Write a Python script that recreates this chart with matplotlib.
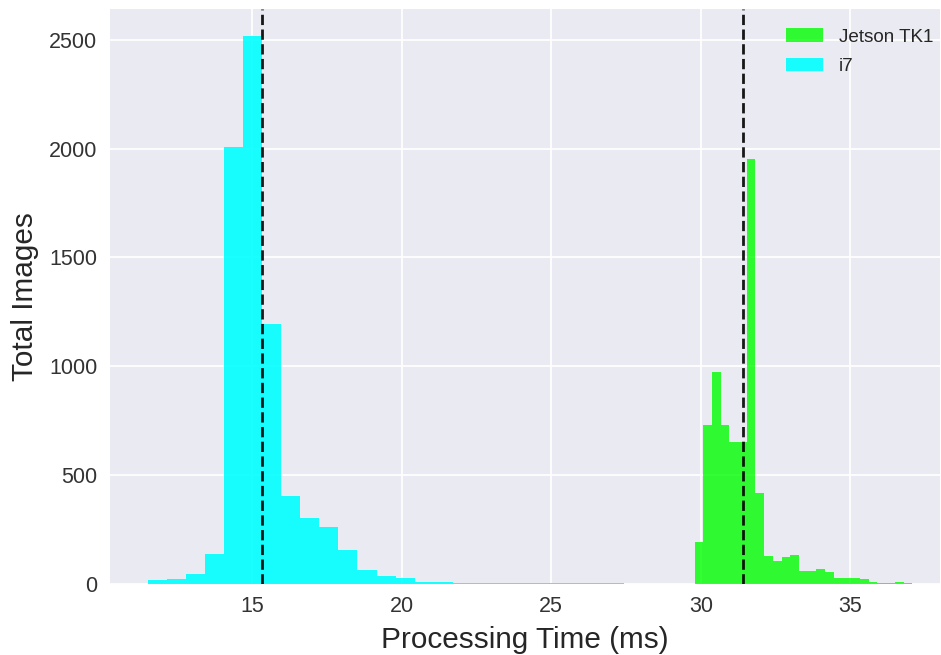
import numpy as np
import matplotlib
matplotlib.use("Agg")
import matplotlib.pyplot as plt

plt.style.use("seaborn-v0_8-darkgrid")
plt.rcParams["font.family"] = ["Liberation Sans", "DejaVu Sans"]

# Histogram data (25 bins each)
jetson_range = (29.79, 37.07)
jetson_counts = [191, 731, 975, 731, 651, 651, 1950, 420, 128, 105, 122, 135,
                 61, 61, 67, 54, 29, 29, 29, 23, 9, 3, 3, 11, 3]
jetson_mean = 31.40

i7_range = (11.53, 27.43)
i7_counts = [18, 25, 44, 138, 2005, 2515, 1195, 403, 303, 261, 156, 63,
             36, 29, 11, 11, 4, 4, 4, 4, 4, 4, 4, 4, 4]
i7_mean = 15.33

series_labels = ["Jetson TK1", "i7"]
x_label = "Processing Time (ms)"
y_label = "Total Images"

fig = plt.figure(figsize=(9.41, 6.55), dpi=100)
ax = fig.add_axes([110 / 941, (655 - 584) / 655, 830 / 941, 575 / 655])

j_edges = np.linspace(jetson_range[0], jetson_range[1], len(jetson_counts) + 1)
i_edges = np.linspace(i7_range[0], i7_range[1], len(i7_counts) + 1)

ax.hist(j_edges[:-1], bins=j_edges, weights=jetson_counts, color="lime",
        alpha=0.8, label=series_labels[0])
ax.hist(i_edges[:-1], bins=i_edges, weights=i7_counts, color="cyan",
        alpha=0.9, label=series_labels[1])

ax.axvline(jetson_mean, color="k", linestyle="--", linewidth=2, alpha=0.9)
ax.axvline(i7_mean, color="k", linestyle="--", linewidth=2, alpha=0.9)

ax.set_xlim(10.254, 37.995)
ax.set_ylim(0, 2641)
ax.set_xticks([15, 20, 25, 30, 35])
ax.set_yticks([0, 500, 1000, 1500, 2000, 2500])
ax.tick_params(axis="both", labelsize=15.5, length=0, pad=9, colors="#333333")
ax.grid(True, color="white", linewidth=1.3)

ax.set_xlabel(x_label, fontsize=21.4, color="#262626", labelpad=6)
ax.set_ylabel(y_label, fontsize=21.4, color="#262626", labelpad=7)

leg = ax.legend(loc="upper right", fontsize=13.6, frameon=False,
                bbox_to_anchor=(1.012, 0.996), labelspacing=0.65)

fig.savefig("out.png", dpi=100)
